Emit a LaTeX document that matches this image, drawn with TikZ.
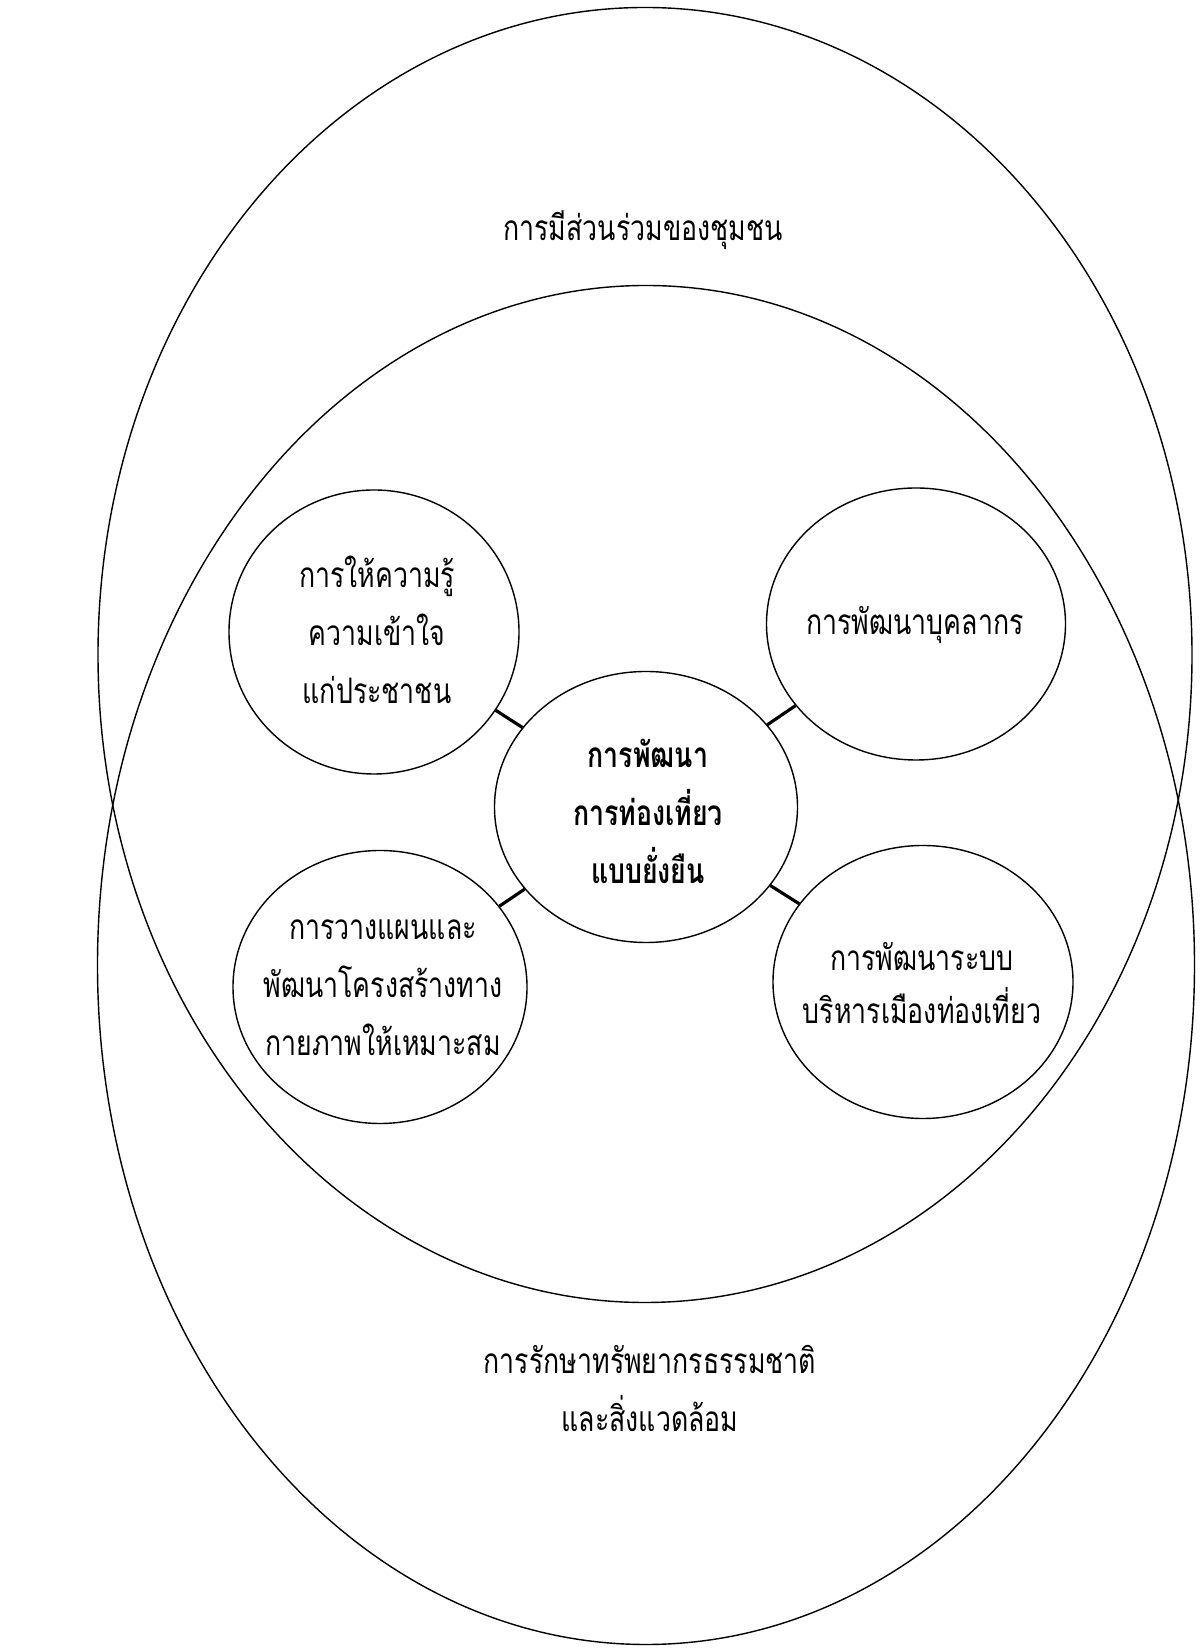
\documentclass[tikz,border=0pt]{standalone}
\usepackage{fontspec}
\newfontfamily\thaifont[Script=Thai,FakeStretch=0.76]{Loma}
\usetikzlibrary{shapes.geometric}
\begin{document}
\begin{tikzpicture}
        \tikzset{bubble/.style = {shape=ellipse,draw,line width=0.8pt,inner sep=0pt}}
        \tikzset{link/.style = {-,line width=1.8pt}}
        \tikzset{words/.style = {align=center,inner sep=0pt,font=\thaifont\fontsize{20}{33}\selectfont}}
        \useasboundingbox (0,0) rectangle (24.06,32.96);
        % the two big rings
        \draw[line width=0.8pt] (12.90,19.86) ellipse [x radius=10.94, y radius=12.95];
        \draw[line width=0.8pt] (12.92,13.66) ellipse [x radius=10.97, y radius=13.59];
        \node[words] (top) at (12.86,28.36) {การมีส่วนร่วมของชุมชน};
        \node[words] (bottom) at (13.00,5.20) {การรักษาทรัพยากรธรรมชาติ\\และสิ่งแวดล้อม};
        % the five bubbles
        \node[bubble,minimum width=5.80cm,minimum height=5.68cm] (a) at (7.48,20.32) {};
        \node[bubble,minimum width=5.98cm,minimum height=5.44cm] (b) at (18.32,20.48) {};
        \node[bubble,minimum width=6.06cm,minimum height=5.42cm] (c) at (12.92,16.82) {};
        \node[bubble,minimum width=5.88cm,minimum height=5.46cm] (d) at (7.60,13.22) {};
        \node[bubble,minimum width=6.00cm,minimum height=5.46cm] (e) at (18.46,13.32) {};
        % texts in the bubbles
        \node[words] (ta) at (7.54,20.36) {การให้ความรู้\\ความเข้าใจ\\แก่ประชาชน};
        \node[words] (tb) at (18.30,20.46) {การพัฒนาบุคลากร};
        \node[words,font=\thaifont\bfseries\fontsize{20}{33}\selectfont] (tc) at (12.96,16.74) {การพัฒนา\\การท่องเที่ยว\\แบบยั่งยืน};
        \node[words] (td) at (7.66,13.20) {การวางแผนและ\\พัฒนาโครงสร้างทาง\\กายภาพให้เหมาะสม};
        \node[words,font=\thaifont\fontsize{20}{30}\selectfont] (te) at (18.44,13.30) {การพัฒนาระบบ\\บริหารเมืองท่องเที่ยว};
        % links to the middle
        \draw[link] (c) to (a);
        \draw[link] (c) to (b);
        \draw[link] (c) to (d);
        \draw[link] (c) to (e);
\end{tikzpicture}
\end{document}
